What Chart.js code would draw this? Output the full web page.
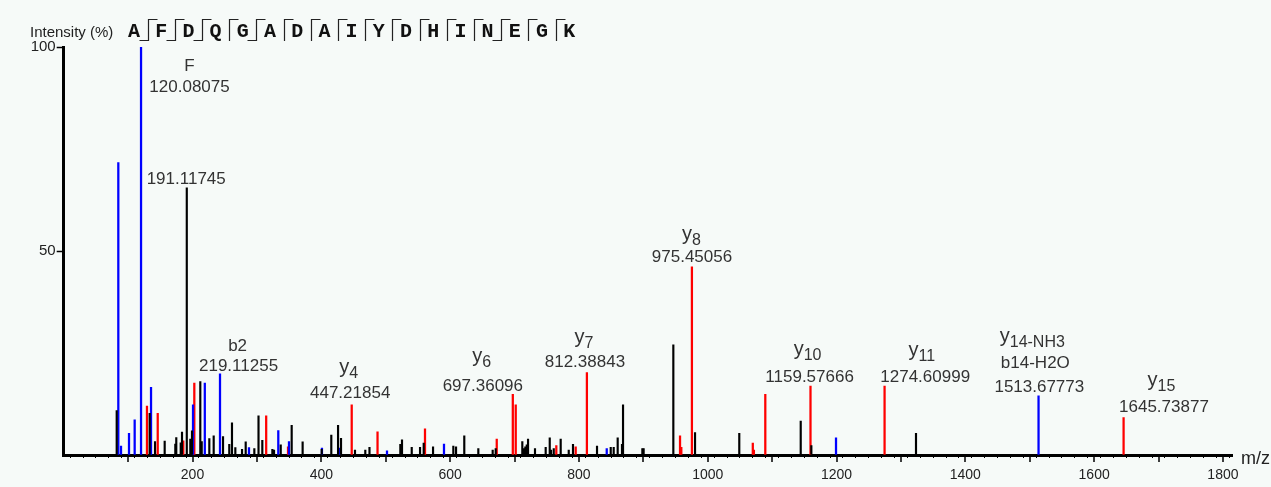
<!DOCTYPE html>
<html>
<head>
<meta charset="utf-8">
<script src="https://cdn.jsdelivr.net/npm/chart.js@4/dist/chart.umd.min.js"></script>
<style>
html,body{margin:0;padding:0;background:#f6faf8;overflow:hidden;}
canvas{display:block;}
</style>
</head>
<body>
<canvas id="c" width="1271" height="487"></canvas>
<script>
// ---- data (m/z, relative intensity %) ----
const blackMz  = [82.3,133.5,141.8,156.8,173.3,174.8,181.7,183.7,191.12,196.6,199.2,212.1,214.3,226.1,232.9,247.4,257.1,261.3,266.5,276.9,282.6,296,302.5,308.4,324,326.6,337,354,371,400.6,415.5,426,430.6,452.3,468.3,474.8,522.7,525.3,540.4,553.3,559,573.5,605,609.2,622,643.8,666.1,670.8,712.1,714.8,716.8,719,721,731.8,748.4,754.7,756.7,760.9,771.7,784.2,790.8,828.1,849.4,854,860.2,866.9,868.5,898.5,900.5,946.6,980.3,1049,1144.4,1160.9,1323.4];
const blackInt = [10.9,10.2,3.3,3.4,2.7,4.3,3.0,5.6,65.5,3.9,5.9,18,3.3,4.0,4.7,4.5,2.6,7.9,1.8,1.4,3.2,1.6,9.6,3.6,1.4,1.2,2.5,7.3,3.2,1.4,4.9,7.3,4.1,1.2,1.2,1.9,2.6,3.7,1.9,1.9,2.9,2.0,2.2,2.0,4.7,1.6,1.2,1.6,3.3,1.6,2.0,2.5,3.9,1.6,1.9,4.2,1.2,1.6,3.9,1.2,2.6,2.2,1.9,1.9,4.2,2.6,12.3,1.6,1.6,27,5.5,5.3,8.3,2.3,5.3];
const blueMz   = [84.8,89,101.4,110.2,120.08,135.6,200.8,219.11,242.7,287.7,333.2,349.8,401,428.3,502,590.5,843.2,1199.2,1513.68];
const blueInt  = [71.7,2.2,5.3,8.6,100,16.6,12.3,17.6,19.9,1.8,6.0,3.3,1.7,1.7,1.0,2.7,1.6,4.2,14.5];
const redMz    = [129.3,146,185.7,202.8,314.4,348.3,447.22,487.3,561,672.4,697.36,701.9,764.9,795,812.39,957,959,975.45,1070,1071.7,1089.4,1159.58,1274.61,1645.74];
const redInt   = [12,10.2,3.5,17.6,9.6,2.0,12.3,5.7,6.4,3.9,14.9,12.3,2.3,2.0,20.2,4.7,1.9,46.1,2.9,1.2,14.9,16.9,16.9,9.2];

// ---- peak annotations (text, centre m/z, centre intensity) ----
const annText = ["F","120.08075","191.11745","b2","219.11255","y4","447.21854","y6","697.36096","y7","812.38843","y8","975.45056","y10","1159.57666","y11","1274.60999","y14-NH3","b14-H2O","1513.67773","y15","1645.73877"];
const annMz   = [195.4,195.4,190.2,270,271.5,442.5,444.8,649.2,650.8,807.7,809.3,974.8,975.6,1155,1158.2,1332.3,1337.7,1504,1508.7,1514.9,1704.5,1708.4];
const annInt  = [95.3,90.0,67.6,26.7,21.8,20.8,15.2,23.5,16.9,28.2,22.8,53.4,48.5,25.2,19.1,25.0,19.1,28.4,22.5,16.7,17.6,11.8];

// ---- axis tick labels ----
const xTickLabels = [200,400,600,800,1000,1200,1400,1600,1800];
const yTickLabels = [50,100];

// ---- sequence ----
const sequence = ["A","F","D","Q","G","A","D","A","I","Y","D","H","I","N","E","G","K"];
const bBreaks = [1,1,1,0,1,0,0,0,0,0,0,0,0,1,0,0];
const yBreaks = [1,1,1,1,1,1,1,1,1,1,1,1,1,1,1,1];

const FONT = '"Liberation Sans", Arial, sans-serif';
const toXY = (mz, it) => mz.map((m,i)=>({x:m,y:it[i]}));

const annotPlugin = {
  id:'annot',
  beforeDraw(chart){
    const c = chart.ctx;
    c.save(); c.fillStyle='#f6faf8'; c.fillRect(0,0,chart.width,chart.height); c.restore();
  },
  afterDraw(chart){
    const c = chart.ctx, xs = chart.scales.x, ys = chart.scales.y;
    c.save();
    // longer ticks every 100
    c.strokeStyle='#000'; c.lineWidth=1.5;
    c.beginPath();
    for(let v=100; v<=1800; v+=100){
      const px = Math.round(xs.getPixelForValue(v));
      c.moveTo(px, ys.bottom); c.lineTo(px, ys.bottom+7);
    }
    c.stroke();
    // peak labels
    c.fillStyle='#333';
    for(let i=0;i<annText.length;i++){
      const t = annText[i];
      const cx = xs.getPixelForValue(annMz[i]);
      const cy = ys.getPixelForValue(annInt[i]);
      const m = /^y(\d.*)$/.exec(t);
      if(m){
        c.font = '20px '+FONT; const w1 = c.measureText('y').width;
        c.font = '16px '+FONT; const w2 = c.measureText(m[1]).width;
        const left = cx-(w1+w2)/2;
        c.textAlign='left'; c.textBaseline='alphabetic';
        c.font = '20px '+FONT; c.fillText('y', left, cy+3);
        c.font = '16px '+FONT; c.fillText(m[1], left+w1, cy+8);
      } else {
        c.font = '17px '+FONT; c.textAlign='center'; c.textBaseline='middle';
        c.fillText(t, cx, cy);
      }
    }
    // m/z axis title (partly cut by the edge)
    c.fillStyle='#222'; c.font='18px '+FONT; c.textAlign='left'; c.textBaseline='middle';
    c.fillText('m/z', 1241, 459);
    // header
    c.fillStyle='#222'; c.font='15px '+FONT; c.textBaseline='alphabetic';
    c.fillText('Intensity (%)', 30, 37);
    const x0 = 134, step = 27.2;
    c.font = 'bold 20px "Liberation Mono", "Courier New", monospace';
    c.textAlign='center'; c.fillStyle='#111';
    sequence.forEach((s,i)=>{ c.fillText(s, x0+i*step, 37); });
    c.strokeStyle='#222'; c.lineWidth=1.2;
    for(let i=0;i<sequence.length-1;i++){
      const mx = Math.round(x0+(i+0.5)*step)+0.5;
      c.beginPath();
      c.moveTo(mx,19); c.lineTo(mx,41);
      if(yBreaks[i]){ c.moveTo(mx,19.5); c.lineTo(mx+9,19.5); }
      if(bBreaks[i]){ c.moveTo(mx,40.5); c.lineTo(mx-9,40.5); }
      c.stroke();
    }
    c.restore();
  }
};

new Chart(document.getElementById('c'), {
  type:'bar',
  data:{
    datasets:[
      {label:'other', data:toXY(blackMz,blackInt), backgroundColor:'#000', barThickness:1.5, grouped:false},
      {label:'b', data:toXY(blueMz,blueInt), backgroundColor:'#0000ff', barThickness:1.6, grouped:false},
      {label:'y', data:toXY(redMz,redInt), backgroundColor:'#ff0000', barThickness:1.6, grouped:false}
    ]
  },
  options:{
    responsive:false, animation:false, devicePixelRatio:1,
    layout:{padding:{top:47,right:38.4,bottom:0,left:0}},
    plugins:{legend:{display:false}, tooltip:{enabled:false}},
    scales:{
      x:{
        type:'linear', min:0, max:1815, offset:false,
        afterFit(s){ s.height = 32; },
        border:{color:'#000', width:3},
        grid:{display:true, drawOnChartArea:false, tickLength:3, tickColor:'#000', tickWidth:1},
        ticks:{stepSize:20, includeBounds:false, autoSkip:false, maxRotation:0, padding:9,
          color:'#222', font:{family:FONT, size:14},
          callback:(v)=> xTickLabels.includes(v) ? String(v) : ''}
      },
      y:{
        min:0, max:100,
        afterFit(s){ s.width = 63.7; },
        border:{color:'#000', width:3},
        grid:{display:true, drawOnChartArea:false, tickLength:7, tickWidth:1.5,
          tickColor:(ctx)=> ctx.tick && ctx.tick.value===0 ? 'rgba(0,0,0,0)' : '#000'},
        ticks:{stepSize:50, padding:1, color:'#222', font:{family:FONT, size:15},
          callback:(v)=> yTickLabels.includes(v) ? String(v) : ''}
      }
    }
  },
  plugins:[annotPlugin]
});
</script>
</body>
</html>
